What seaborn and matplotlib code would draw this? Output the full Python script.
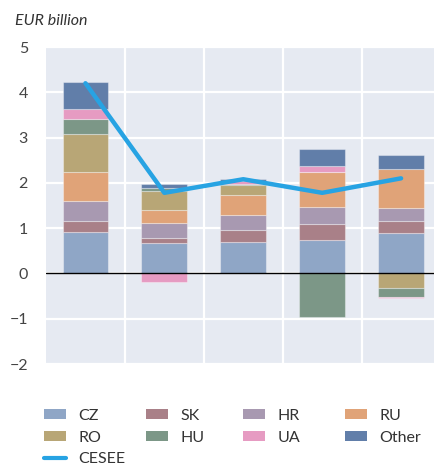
import numpy as np
import pandas as pd
import matplotlib
matplotlib.use("Agg")
import matplotlib.pyplot as plt
from matplotlib.patches import Patch
from matplotlib.lines import Line2D
import seaborn as sns

# ======================
# data (EUR billion)

periods = ["P1", "P2", "P3", "P4", "P5"]
countries = ["CZ", "SK", "HR", "RU", "RO", "HU", "UA", "Other"]

cz = [0.92, 0.67, 0.70, 0.73, 0.89]
sk = [0.24, 0.12, 0.26, 0.37, 0.27]
hr = [0.44, 0.33, 0.33, 0.37, 0.28]
ru = [0.64, 0.27, 0.44, 0.76, 0.87]
ro = [0.84, 0.42, 0.22, 0.02, -0.33]
hu = [0.32, 0.08, 0.03, -0.97, -0.18]
ua = [0.24, -0.19, 0.05, 0.12, -0.04]
other = [0.59, 0.09, 0.06, 0.37, 0.31]

cesee = [4.20, 1.78, 2.08, 1.78, 2.10]

colors = {"CZ": "#8fa6c6", "SK": "#a98088", "HR": "#a899b1", "RU": "#e0a378",
          "RO": "#b8a676", "HU": "#7c9787", "UA": "#e69bc2", "Other": "#617ea9"}
line_color = "#27a3e3"

# ======================

sns.set_theme(style="darkgrid", rc={"axes.facecolor": "#e6eaf2",
                                    "grid.color": "white",
                                    "grid.linewidth": 1.6})
plt.rcParams["font.family"] = ["Lato", "DejaVu Sans"]

df = pd.DataFrame({"CZ": cz, "SK": sk, "HR": hr, "RU": ru, "RO": ro,
                   "HU": hu, "UA": ua, "Other": other}, index=periods)

fig = plt.figure(figsize=(4.35, 4.72), dpi=100)
ax = fig.add_axes([46 / 435, 108 / 472, 389 / 435, 317 / 472])

# stacked bars, positives up from 0 and negatives down from 0
x = np.arange(len(periods))
pos_base = np.zeros(len(periods))
neg_base = np.zeros(len(periods))
for c in countries:
    vals = df[c].values
    bottoms = np.where(vals >= 0, pos_base, neg_base)
    ax.bar(x, vals, bottom=bottoms, width=0.58, color=colors[c],
           edgecolor=(1, 1, 1, 0.35), linewidth=0.8, zorder=2)
    pos_base = pos_base + np.clip(vals, 0, None)
    neg_base = neg_base + np.clip(vals, None, 0)

line_df = pd.DataFrame({"x": x, "CESEE": cesee})
sns.lineplot(data=line_df, x="x", y="CESEE", color=line_color, linewidth=3.2,
             ax=ax, zorder=3)

ax.set_xlim(-0.5, 4.43)
ax.set_ylim(-2, 5)
yticks = list(range(-2, 6))
ax.set_yticks(yticks)
ax.set_xticks([0.5, 1.5, 2.5, 3.5])
ax.set_xticklabels([])
ax.set_xlabel("")
ax.set_ylabel("")
ax.tick_params(axis="both", length=0)
ax.tick_params(axis="y", labelsize=11.5, labelcolor="#444444", pad=13)
for s in ax.spines.values():
    s.set_visible(False)
ax.set_axisbelow(True)
ax.grid(True, axis="both", color="white", linewidth=1.6)
ax.axhline(0, color="black", linewidth=1.0, zorder=2.5)

fig.text(15 / 435, 1 - 25 / 472, "EUR billion", fontsize=11.5, style="italic",
         color="#333333")

# legend: four fixed-position columns like the reference
handles = {c: Patch(facecolor=colors[c], edgecolor="none") for c in countries}
handles["CESEE"] = Line2D([0], [0], color=line_color, linewidth=3)
columns = [["CZ", "RO", "CESEE"], ["SK", "HU"], ["HR", "UA"], ["RU", "Other"]]
col_x = [46, 148, 245, 347]
for labels, cx in zip(columns, col_x):
    leg = fig.legend([handles[k] for k in labels], labels, ncol=1,
                     loc="upper left",
                     bbox_to_anchor=((cx - 2) / 435, 1 - 409 / 472),
                     frameon=False, fontsize=11.5, handlelength=1.4,
                     handleheight=0.6, handletextpad=0.75,
                     labelspacing=0.48, borderaxespad=0, borderpad=0)
    for t in leg.get_texts():
        t.set_color("#333333")

plt.savefig("out.png", dpi=100)
plt.close()
